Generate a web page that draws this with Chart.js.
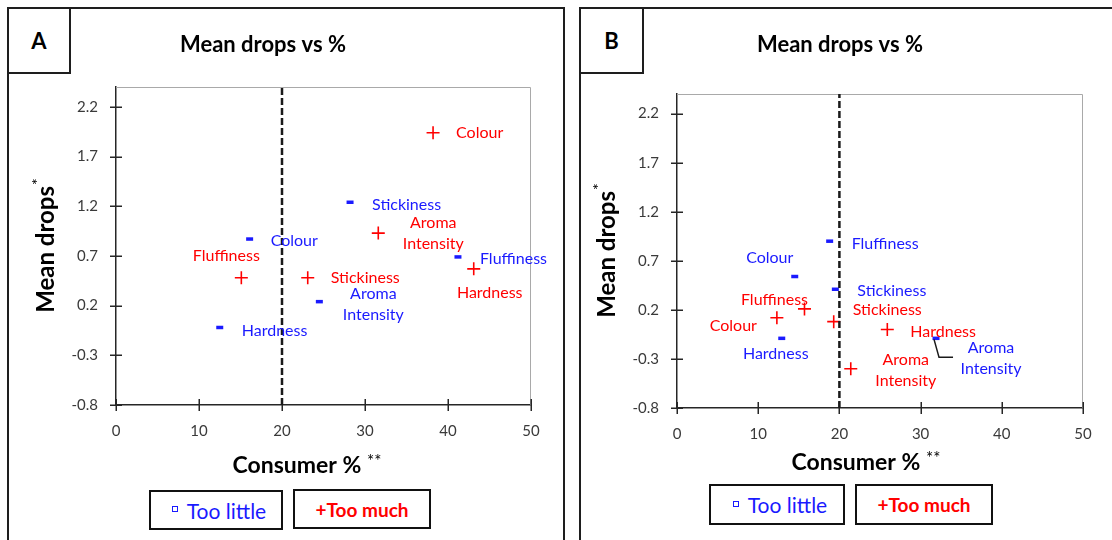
<!DOCTYPE html>
<html>
<head>
<meta charset="utf-8">
<title>Mean drops vs %</title>
<script src="https://cdn.jsdelivr.net/npm/chart.js@4.4.0/dist/chart.umd.min.js"></script>
<style>
  html, body { margin: 0; padding: 0; background: #fff; width: 1112px; height: 540px; overflow: hidden; font-family: Lato, sans-serif; }
  canvas { position: absolute; top: 0; }
  .frame { position: absolute; border: 2px solid #1e1e1e; box-sizing: border-box; }
  .tag { position: absolute; border: 2px solid #1e1e1e; box-sizing: border-box; background: #fff;
         font: bold 22px Lato, sans-serif; display: flex; align-items: center; justify-content: center; color: #000; }
  .legbox { position: absolute; border: 2.5px solid #111; box-sizing: border-box; background: #fff;
            display: flex; align-items: center; justify-content: center; white-space: nowrap; }
  .little { color: #1a1aff; font-size: 21px; padding-left: 6px; }
  .little .mk { display: inline-block; width: 4px; height: 4px; border: 1.5px solid #1a1aff; margin-right: 9px; vertical-align: middle; position: relative; top: -1px; }
  .much { color: #ff0000; font-size: 19px; font-weight: bold; }
</style>
</head>
<body>
<canvas id="chartA" width="570" height="540" style="left:0"></canvas>
<canvas id="chartB" width="542" height="540" style="left:570px"></canvas>

<div class="frame" style="left:7px; top:7px; width:558px; height:560px;"></div>
<div class="frame" style="left:579px; top:7px; width:560px; height:560px;"></div>
<div class="tag" style="left:7px; top:7px; width:64px; height:67px;">A</div>
<div class="tag" style="left:579px; top:7px; width:65px; height:67px;">B</div>

<div class="legbox little" style="left:149px; top:490px; width:134px; height:40px;"><span class="mk"></span>Too little</div>
<div class="legbox much" style="left:293px; top:489px; width:138px; height:40px;">+Too much</div>
<div class="legbox little" style="left:709px; top:484px; width:136px; height:41px;"><span class="mk"></span>Too little</div>
<div class="legbox much" style="left:855px; top:484px; width:138px; height:41px;">+Too much</div>

<script>
// Sensory attributes rated on the just-about-right scale
const attributes = ['Colour', 'Aroma Intensity', 'Hardness', 'Fluffiness', 'Stickiness'];

// Axis ticks
const xTicks = [0, 10, 20, 30, 40, 50];
const yTicks = [-0.8, -0.3, 0.2, 0.7, 1.2, 1.7, 2.2];
const cutoffPercent = 20;

// Panel A: consumer % and mean drop per attribute
const aLittlePct  = [16.1, 24.5, 12.5, 41.2, 28.2];
const aLittleDrop = [0.87, 0.24, -0.02, 0.69, 1.24];
const aMuchPct    = [38.2, 31.6, 43.1, 15.1, 23.1];
const aMuchDrop   = [1.94, 0.93, 0.57, 0.48, 0.48];

// Panel B: consumer % and mean drop per attribute
const bLittlePct  = [14.5, 31.9, 12.9, 18.8, 19.5];
const bLittleDrop = [0.54, -0.09, -0.09, 0.90, 0.41];
const bMuchPct    = [12.3, 21.4, 25.9, 15.7, 19.3];
const bMuchDrop   = [0.12, -0.40, 0.00, 0.21, 0.08];

const BLUE = '#1a1aff';
const RED = '#ff0000';

// Where each point's name sits relative to its marker (pixels)
const placeA = {
  little: {
    'Colour':          { dx: 21, dy: 2, align: 'left' },
    'Aroma Intensity': { dx: 54, dy: 3, align: 'center' },
    'Hardness':        { dx: 22, dy: 3, align: 'left' },
    'Fluffiness':      { dx: 22, dy: 2, align: 'left' },
    'Stickiness':      { dx: 22, dy: 3, align: 'left' }
  },
  much: {
    'Colour':          { dx: 23, dy: 0, align: 'left' },
    'Aroma Intensity': { dx: 55, dy: 0, align: 'center' },
    'Hardness':        { dx: 16, dy: 24, align: 'center' },
    'Fluffiness':      { dx: -15, dy: -22, align: 'center' },
    'Stickiness':      { dx: 23, dy: 0, align: 'left' }
  }
};
const placeB = {
  little: {
    'Colour':          { dx: -25, dy: -19, align: 'center' },
    'Aroma Intensity': { dx: 55, dy: 20, align: 'center', leader: [[-2, 1], [3, 19], [17, 19]] },
    'Hardness':        { dx: -6, dy: 16, align: 'center' },
    'Fluffiness':      { dx: 22, dy: 3, align: 'left' },
    'Stickiness':      { dx: 22, dy: 2, align: 'left' }
  },
  much: {
    'Colour':          { dx: -20, dy: 8, align: 'right' },
    'Aroma Intensity': { dx: 55, dy: 2, align: 'center' },
    'Hardness':        { dx: 23, dy: 2, align: 'left' },
    'Fluffiness':      { dx: -30, dy: -9, align: 'center' },
    'Stickiness':      { dx: 19, dy: -12, align: 'left' }
  }
};

function points(xs, ys) {
  return xs.map((x, i) => ({ x: x, y: ys[i] }));
}

// Axis frame, cross ticks, point names and titles
const decor = {
  id: 'decor',
  beforeDatasetsDraw(chart) {
    const { ctx, chartArea: a, scales: { x, y } } = chart;
    ctx.save();
    ctx.strokeStyle = '#a9a9a9';
    ctx.lineWidth = 1;
    ctx.beginPath();
    ctx.moveTo(a.left, a.top + 0.5);
    ctx.lineTo(a.right - 0.5, a.top + 0.5);
    ctx.lineTo(a.right - 0.5, a.bottom);
    ctx.stroke();
    ctx.strokeStyle = '#262626';
    ctx.lineWidth = 1.5;
    ctx.beginPath();
    y.ticks.forEach(t => {
      const py = Math.round(y.getPixelForValue(t.value)) + 0.25;
      ctx.moveTo(a.left - 6, py); ctx.lineTo(a.left + 6, py);
    });
    x.ticks.forEach(t => {
      const px = Math.round(x.getPixelForValue(t.value)) + 0.25;
      ctx.moveTo(px, a.bottom - 6); ctx.lineTo(px, a.bottom + 6);
    });
    ctx.stroke();
    ctx.restore();
  },
  afterDatasetsDraw(chart, args, o) {
    const { ctx, chartArea: a } = chart;
    ctx.save();
    ctx.font = '16px Lato, sans-serif';
    ctx.textBaseline = 'middle';
    chart.data.datasets.forEach((ds, i) => {
      if (!ds.names) return;
      const meta = chart.getDatasetMeta(i);
      meta.data.forEach((pt, j) => {
        const name = ds.names[j];
        const p = ds.placement[name];
        const lines = name.indexOf(' ') > 0 ? name.split(' ') : [name];
        const lh = 21;
        ctx.fillStyle = ds.borderColor;
        ctx.textAlign = p.align;
        const top = pt.y + p.dy - (lines.length - 1) * lh / 2;
        lines.forEach((ln, k) => ctx.fillText(ln, pt.x + p.dx, top + k * lh));
        if (p.leader) {
          ctx.strokeStyle = '#1a1a1a';
          ctx.lineWidth = 1.5;
          ctx.beginPath();
          p.leader.forEach((q, k) => {
            if (k === 0) ctx.moveTo(pt.x + q[0], pt.y + q[1]);
            else ctx.lineTo(pt.x + q[0], pt.y + q[1]);
          });
          ctx.stroke();
        }
      });
    });

    ctx.fillStyle = '#000';
    ctx.textAlign = 'center';
    ctx.font = 'bold 22px Lato, sans-serif';
    ctx.fillText(o.title, o.titleX, o.titleY);

    // x axis title with raised asterisks
    const main = 'Consumer % ';
    ctx.font = 'bold 23px Lato, sans-serif';
    const w1 = ctx.measureText(main).width;
    ctx.font = '17px Lato, sans-serif';
    const w2 = ctx.measureText('**').width;
    let sx = o.xTitleX - (w1 + w2) / 2;
    ctx.textAlign = 'left';
    ctx.font = 'bold 23px Lato, sans-serif';
    ctx.fillText(main, sx, o.xTitleY);
    ctx.font = '17px Lato, sans-serif';
    ctx.fillText('**', sx + w1, o.xTitleY - 4);

    // y axis title, rotated, with raised asterisk
    ctx.translate(o.yTitleX, (a.top + a.bottom) / 2);
    ctx.rotate(-Math.PI / 2);
    ctx.font = 'bold 24px Lato, sans-serif';
    const m1 = ctx.measureText('Mean drops').width;
    ctx.font = '16px Lato, sans-serif';
    const m2 = ctx.measureText('*').width;
    sx = -(m1 + m2) / 2;
    ctx.font = 'bold 24px Lato, sans-serif';
    ctx.fillText('Mean drops', sx, 0);
    ctx.font = '16px Lato, sans-serif';
    ctx.fillText('*', sx + m1 + 1, -8);
    ctx.restore();
  }
};

function buildChart(id, d) {
  return new Chart(document.getElementById(id), {
    type: 'scatter',
    data: {
      datasets: [
        {
          label: 'cutoff',
          data: [{ x: cutoffPercent, y: -0.8 }, { x: cutoffPercent, y: 2.4 }],
          showLine: true,
          borderColor: '#1a1a1a',
          borderWidth: 2.5,
          borderDash: [7, 3],
          pointRadius: 0
        },
        {
          label: 'Too little',
          data: points(d.littlePct, d.littleDrop),
          names: attributes,
          placement: d.place.little,
          pointStyle: 'line',
          radius: 3.5,
          borderWidth: 3.5,
          borderColor: BLUE,
          backgroundColor: BLUE
        },
        {
          label: 'Too much',
          data: points(d.muchPct, d.muchDrop),
          names: attributes,
          placement: d.place.much,
          pointStyle: 'cross',
          radius: 6.5,
          borderWidth: 1.6,
          borderColor: RED,
          backgroundColor: RED
        }
      ]
    },
    options: {
      responsive: false,
      animation: false,
      events: [],
      layout: { padding: d.padding },
      plugins: {
        legend: { display: false },
        tooltip: { enabled: false },
        decor: d.decor
      },
      scales: {
        x: {
          type: 'linear',
          min: 0, max: 50,
          afterBuildTicks: s => { s.ticks = xTicks.map(v => ({ value: v })); },
          afterFit: s => { s.height = 40; },
          grid: { display: false, drawTicks: false },
          border: { color: '#262626', width: 1.5 },
          ticks: { padding: 17, color: '#3a3a3a', font: { size: 15, family: 'Lato' } }
        },
        y: {
          type: 'linear',
          min: -0.8, max: 2.4,
          afterBuildTicks: s => { s.ticks = yTicks.map(v => ({ value: v })); },
          afterFit: s => { s.width = d.yWidth; },
          grid: { display: false, drawTicks: false },
          border: { color: '#262626', width: 1.5 },
          ticks: {
            padding: 18, color: '#3a3a3a', font: { size: 15, family: 'Lato' },
            callback: v => v.toFixed(1)
          }
        }
      }
    },
    plugins: [decor]
  });
}

Chart.defaults.font.family = 'Lato, sans-serif';

buildChart('chartA', {
  littlePct: aLittlePct, littleDrop: aLittleDrop,
  muchPct: aMuchPct, muchDrop: aMuchDrop,
  place: placeA,
  yWidth: 116,
  padding: { left: 0, top: 87, right: 39, bottom: 95 },
  decor: { title: 'Mean drops vs %', titleX: 263, titleY: 45, xTitleX: 307, xTitleY: 466, yTitleX: 46 }
});

buildChart('chartB', {
  littlePct: bLittlePct, littleDrop: bLittleDrop,
  muchPct: bMuchPct, muchDrop: bMuchDrop,
  place: placeB,
  yWidth: 107,
  padding: { left: 0, top: 94, right: 29, bottom: 92 },
  decor: { title: 'Mean drops vs %', titleX: 270, titleY: 45, xTitleX: 296, xTitleY: 463, yTitleX: 37 }
});
</script>
</body>
</html>
